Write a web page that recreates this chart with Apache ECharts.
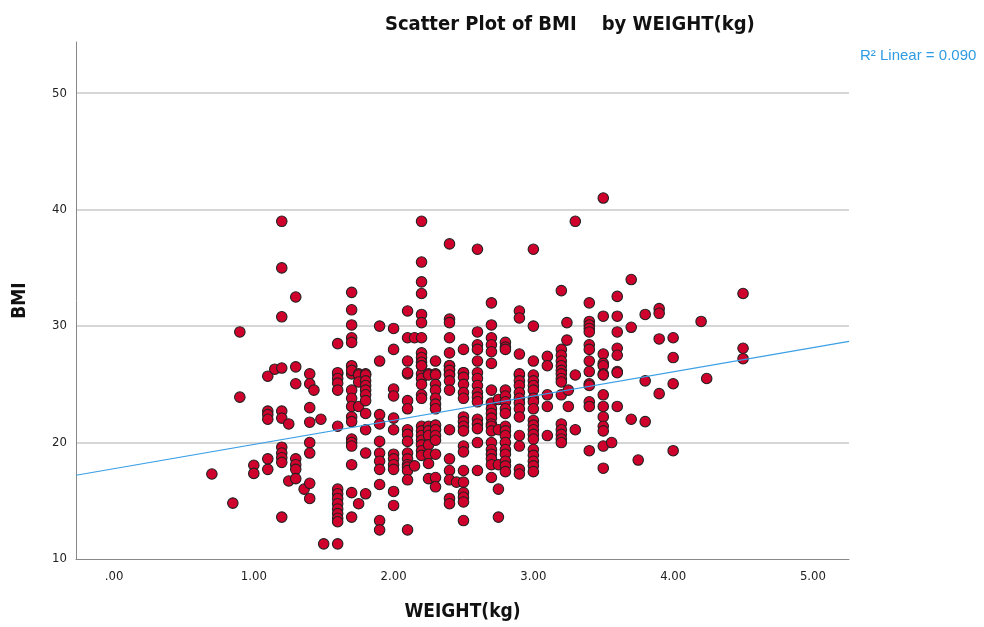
<!DOCTYPE html>
<html>
<head>
<meta charset="utf-8">
<script src="https://cdn.jsdelivr.net/npm/echarts@6/dist/echarts.min.js"></script>
<style>
html,body{margin:0;padding:0;background:#fff;}
#chart{width:984px;height:627px;}
</style>
</head>
<body>
<div id="chart"></div>
<script>
// ---- Data ----
const chartTitle = 'Scatter Plot of BMI    by WEIGHT(kg)';
const xAxisTitle = 'WEIGHT(kg)';
const yAxisTitle = 'BMI';
const fitLabel = 'R\u00B2 Linear = 0.090';
const xTickValues = [0, 1, 2, 3, 4, 5];
const yTickValues = [10, 20, 30, 40, 50];
const fitIntercept = 17.76;
const fitSlope = 2.08;

// weight column (kg) and the BMI values observed in that column
const columnWeights = [0.7, 0.85, 0.9, 1.0, 1.1, 1.15, 1.2, 1.25, 1.3, 1.36, 1.4, 1.43, 1.48, 1.5,
  1.6, 1.7, 1.75, 1.8, 1.9, 2.0, 2.1, 2.15, 2.2, 2.25, 2.3, 2.4, 2.45, 2.5, 2.6, 2.7, 2.75, 2.8,
  2.9, 3.0, 3.1, 3.2, 3.24, 3.25, 3.3, 3.4, 3.5, 3.56, 3.6, 3.7, 3.75, 3.8, 3.9, 4.0, 4.2, 4.24, 4.5];
const columnBmis = [
  [17.3],
  [14.8],
  [29.5, 23.9],
  [18.05, 17.35],
  [25.7, 22.7, 22.4, 22.0, 18.6, 17.7],
  [26.3],
  [39.0, 35.0, 30.8, 26.4, 22.7, 22.1, 19.6, 19.1, 18.7, 18.3, 13.6],
  [21.6, 16.7],
  [32.5, 26.5, 25.05, 18.6, 18.1, 17.7, 16.9],
  [16.0],
  [25.9, 25.05, 23.0, 21.75, 20.0, 19.1, 16.5, 15.2],
  [24.5],
  [22.0],
  [11.3],
  [28.5, 25.9, 26.0, 25.5, 25.1, 24.5, 21.4, 16.0, 15.6, 15.2, 14.75, 14.3, 13.9, 13.5, 13.2, 11.3],
  [32.9, 31.4, 30.1, 29.0, 28.6, 26.55, 25.9, 26.6, 26.2, 24.5, 23.8, 23.1, 22.2, 21.8, 20.3, 20.0, 19.7, 18.1, 15.7, 13.6],
  [25.9, 25.8, 25.2, 23.1, 14.75],
  [25.9, 25.8, 25.3, 24.9, 24.5, 24.1, 23.6, 22.5, 21.1, 19.1, 15.6],
  [30.0, 27.0, 22.4, 21.6, 20.1, 19.1, 18.4, 17.7, 16.4, 13.3, 12.5],
  [29.8, 28.0, 24.6, 24.0, 22.1, 21.1, 19.0, 18.6, 18.1, 17.7, 15.8, 14.6],
  [31.3, 29.0, 27.0, 25.9, 26.0, 23.6, 22.9, 21.1, 20.7, 20.1, 19.1, 18.6, 18.1, 17.9, 17.6, 16.8, 12.5],
  [29.0, 18.0],
  [39.0, 35.5, 33.8, 32.8, 31.0, 30.3, 29.0, 27.7, 27.3, 26.9, 26.6, 25.9, 26.6, 25.5, 25.0, 24.1, 23.8, 21.4, 21.0, 20.6, 20.2, 19.8, 19.3, 18.9],
  [25.9, 25.8, 21.4, 21.0, 20.6, 19.8, 19.0, 18.2, 16.9],
  [27.0, 25.9, 25.8, 25.0, 24.5, 23.8, 23.3, 22.9, 21.5, 21.1, 20.6, 20.2, 19.0, 17.0, 16.2],
  [37.06, 30.6, 30.3, 29.0, 27.7, 26.6, 26.3, 25.9, 26.6, 26.2, 25.8, 25.3, 24.5, 21.1, 18.6, 17.6, 16.8, 15.2, 14.75],
  [16.6],
  [28.0, 26.0, 26.0, 25.6, 25.0, 24.3, 23.8, 22.2, 21.8, 21.4, 21.0, 19.7, 19.2, 17.6, 16.6, 15.7, 15.3, 14.9, 13.3],
  [36.6, 29.5, 28.4, 28.0, 27.0, 26.0, 25.5, 24.9, 24.3, 23.9, 23.5, 22.0, 21.6, 21.2, 20.0, 17.6],
  [32.0, 30.1, 29.0, 28.4, 27.8, 26.8, 24.5, 23.4, 22.9, 22.5, 22.1, 21.6, 21.4, 21.0, 20.0, 19.4, 19.0, 18.6, 18.1, 17.0],
  [23.7, 21.1, 18.1, 16.0, 13.6],
  [28.6, 28.2, 28.0, 24.5, 24.0, 23.5, 22.9, 22.5, 21.4, 21.0, 20.6, 20.0, 19.4, 19.0, 18.4, 18.0, 17.5],
  [31.3, 30.7, 27.6, 25.8, 25.9, 25.3, 24.9, 24.3, 23.8, 23.4, 22.9, 22.2, 20.6, 19.7, 17.7, 17.3],
  [36.6, 30.0, 27.0, 25.8, 25.3, 24.9, 24.5, 23.8, 23.5, 22.9, 21.9, 21.5, 21.1, 20.7, 20.3, 19.4, 18.9, 18.4, 18.0, 17.5],
  [27.4, 26.6, 24.1, 23.1, 20.6],
  [33.05, 28.0, 27.5, 27.0, 26.6, 26.2, 25.9, 25.5, 25.2, 24.1, 21.6, 21.1, 20.7, 20.3, 20.0],
  [30.3, 28.8],
  [24.5, 23.1],
  [39.0, 25.8, 21.1],
  [32.0, 30.4, 30.1, 29.8, 29.5, 28.4, 28.0, 27.0, 26.1, 25.05, 24.9, 23.5, 23.1, 19.3],
  [41.0, 30.85, 27.6, 26.8, 26.6, 25.9, 25.8, 24.1, 23.1, 22.2, 21.4, 21.0, 19.7, 17.8],
  [20.0],
  [32.55, 30.85, 29.5, 28.1, 27.5, 26.1, 26.0, 23.1],
  [34.0, 29.9, 22.0],
  [18.5],
  [31.0, 25.3, 21.8],
  [31.5, 31.1, 28.9, 24.2],
  [29.0, 27.3, 25.05, 19.3],
  [30.4],
  [25.5],
  [32.8, 28.1, 27.2]
];

// ---- Build series data ----
const points = [];
columnWeights.forEach(function (w, i) {
  columnBmis[i].forEach(function (b) { points.push([w, b]); });
});
const xMin = -0.272, xMax = 5.258, yMin = 10, yMax = 54.4;
const fitLine = [[xMin, fitIntercept + fitSlope * xMin], [xMax, fitIntercept + fitSlope * xMax]];

const font = "'DejaVu Sans Condensed', 'Liberation Sans Narrow', 'Liberation Sans', sans-serif";
const chart = echarts.init(document.getElementById('chart'), null, {renderer: 'canvas'});
chart.setOption({
  backgroundColor: '#ffffff',
  animation: false,
  title: [
    {text: chartTitle, left: 380, top: 10,
     textStyle: {fontFamily: font, fontSize: 20, fontWeight: 'bold', color: '#111'}},
    {text: fitLabel, left: 855, top: 43,
     textStyle: {fontFamily: "'Liberation Sans', 'DejaVu Sans', sans-serif", fontSize: 15, fontWeight: 'normal', color: '#2f9be3'}}
  ],
  grid: {left: 76, right: 135, top: 42, bottom: 61, containLabel: false},
  xAxis: {
    type: 'value', min: xMin, max: xMax,
    name: xAxisTitle, nameLocation: 'middle', nameGap: 44,
    nameTextStyle: {fontFamily: font, fontSize: 19, fontWeight: 'bold', color: '#111'},
    axisLine: {show: true, onZero: false, lineStyle: {color: '#888', width: 1}},
    axisTick: {show: false},
    splitLine: {show: false},
    axisLabel: {customValues: xTickValues, fontFamily: font, fontSize: 13, color: '#222', margin: 11,
      formatter: function (v) { return v === 0 ? '.00' : v.toFixed(2); }}
  },
  yAxis: {
    type: 'value', min: yMin, max: yMax, interval: 10,
    name: yAxisTitle, nameLocation: 'middle', nameGap: 46, nameRotate: 90,
    nameTextStyle: {fontFamily: font, fontSize: 19, fontWeight: 'bold', color: '#111'},
    axisLine: {show: true, onZero: false, lineStyle: {color: '#888', width: 1}},
    axisTick: {show: false},
    splitLine: {show: true, showMinLine: false, showMaxLine: false, lineStyle: {color: '#c8c8c8', width: 1.5}},
    axisLabel: {customValues: yTickValues, fontFamily: font, fontSize: 13, color: '#222', margin: 9}
  },
  series: [
    {
      type: 'scatter', data: points, symbol: 'circle', symbolSize: 10.5,
      itemStyle: {color: '#d0002c', borderColor: '#222', borderWidth: 1.1, opacity: 1},
      z: 2
    },
    {
      type: 'line', data: fitLine, symbol: 'none', silent: true,
      lineStyle: {color: '#3a9fe6', width: 1.2}, z: 3
    }
  ]
});
</script>
</body>
</html>
